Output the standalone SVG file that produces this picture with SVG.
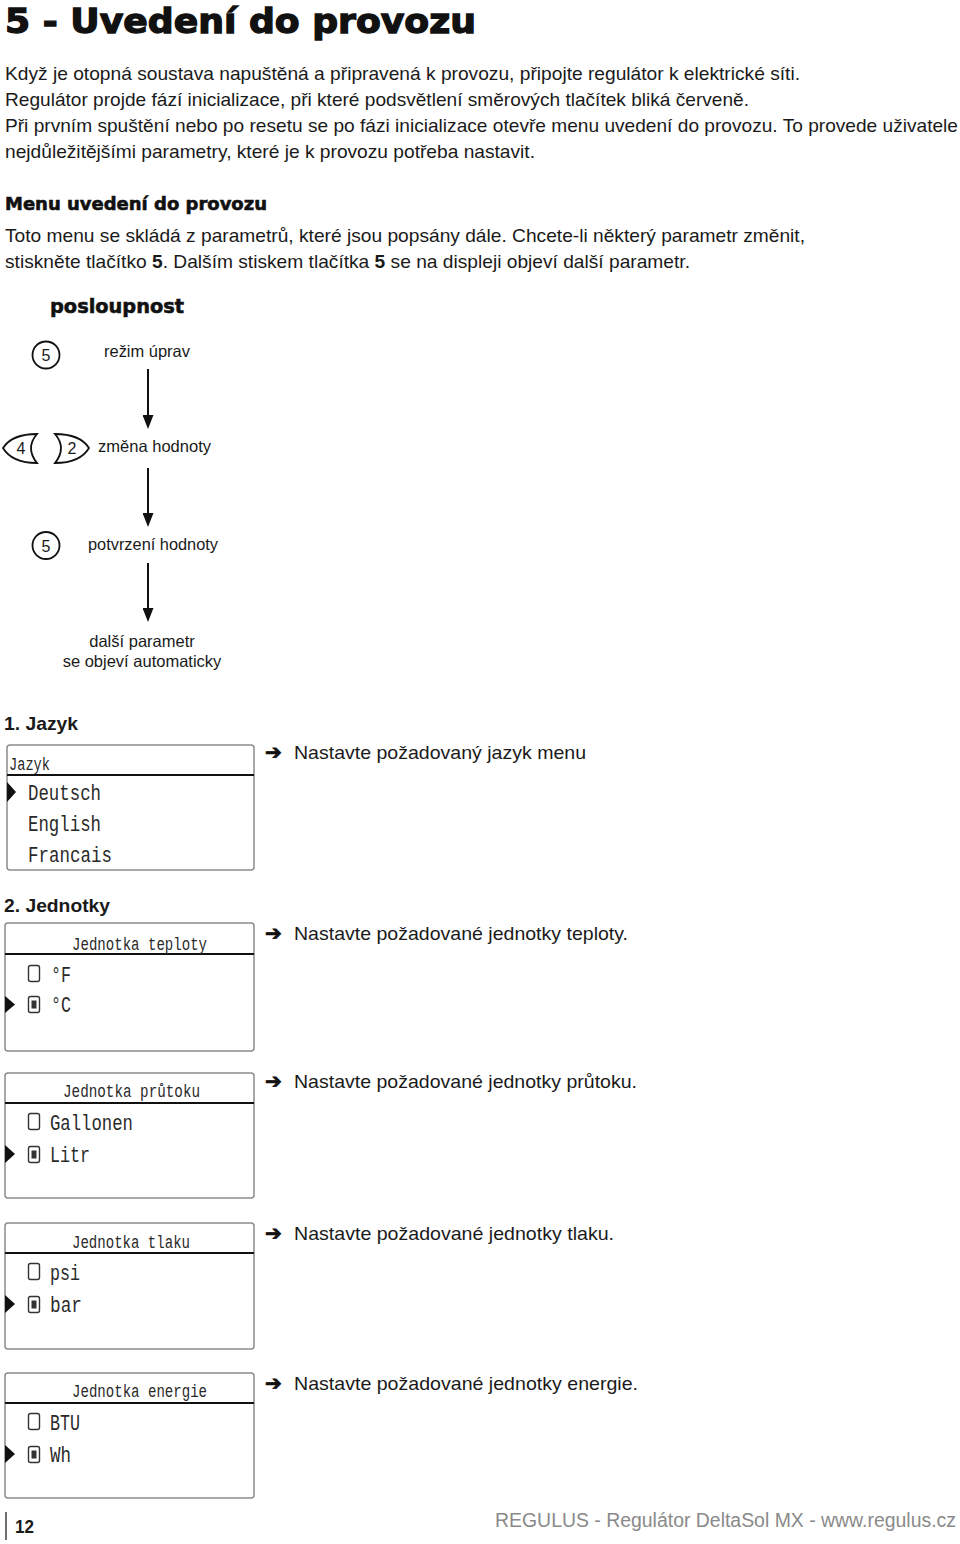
<svg xmlns="http://www.w3.org/2000/svg" width="960" height="1544" viewBox="0 0 960 1544">
<style>
.body{font-family:"Liberation Sans",Arial,sans-serif;font-size:19px;fill:#1a1a1a}
.heavy{font-family:"DejaVu Sans","Liberation Sans",sans-serif;font-weight:bold;fill:#111;stroke:#111}
.bold{font-family:"Liberation Sans",Arial,sans-serif;font-weight:bold;fill:#1a1a1a}
.flow{font-family:"Liberation Sans",Arial,sans-serif;font-size:16.5px;fill:#1a1a1a}
.key{font-family:"Liberation Sans",Arial,sans-serif;font-size:16px;fill:#1a1a1a;text-anchor:middle}
.keyshape{fill:#fff;stroke:#111;stroke-width:1.8}
.conn{stroke:#111;stroke-width:2;fill:none}
.lcd{fill:#fff;stroke:#8c8c8c;stroke-width:1.5}
.sep{stroke:#111;stroke-width:2}
.lcdt{font-family:"Liberation Mono","DejaVu Sans Mono",monospace;fill:#2a2a2a}
.ttl{font-size:18px}
.row{font-size:22px}
.ptr{fill:#111}
.rad{fill:none;stroke:#333;stroke-width:1.4}
.dot{fill:#333}
.arr{font-family:"DejaVu Sans",sans-serif;font-size:20px;fill:#111;stroke:#111;stroke-width:0.8}
.note{font-family:"Liberation Sans",Arial,sans-serif;font-size:19px;fill:#1a1a1a}
.foot{font-family:"Liberation Sans",Arial,sans-serif;font-size:19.4px;fill:#8a8a8a}
</style>
<defs>
<marker id="ah" viewBox="0 0 14 11" refX="9" refY="5.5" markerWidth="14" markerHeight="11" markerUnits="userSpaceOnUse" orient="auto">
<path d="M0,0 L14,5.5 L0,11 Z" fill="#111"/>
</marker>
</defs>
<rect x="0" y="0" width="960" height="1544" fill="#fff"/>

<g id="header">
<text class="heavy" x="5" y="33" font-size="33" stroke-width="1.3" textLength="471" lengthAdjust="spacingAndGlyphs">5 - Uvedení do provozu</text>
<text class="body" x="5" y="80" textLength="795" lengthAdjust="spacingAndGlyphs">Když je otopná soustava napuštěná a připravená k provozu, připojte regulátor k elektrické síti.</text>
<text class="body" x="5" y="106" textLength="744" lengthAdjust="spacingAndGlyphs">Regulátor projde fází inicializace, při které podsvětlení směrových tlačítek bliká červeně.</text>
<text class="body" x="5" y="132" textLength="953" lengthAdjust="spacingAndGlyphs">Při prvním spuštění nebo po resetu se po fázi inicializace otevře menu uvedení do provozu. To provede uživatele</text>
<text class="body" x="5" y="158" textLength="530" lengthAdjust="spacingAndGlyphs">nejdůležitějšími parametry, které je k provozu potřeba nastavit.</text>
<text class="heavy" x="5" y="210" font-size="18" stroke-width="0.6" textLength="262" lengthAdjust="spacingAndGlyphs">Menu uvedení do provozu</text>
<text class="body" x="5" y="242" textLength="800" lengthAdjust="spacingAndGlyphs">Toto menu se skládá z parametrů, které jsou popsány dále. Chcete-li některý parametr změnit,</text>
<text class="body" x="5" y="268" textLength="685" lengthAdjust="spacingAndGlyphs">stiskněte tlačítko <tspan font-weight="bold">5</tspan>. Dalším stiskem tlačítka <tspan font-weight="bold">5</tspan> se na displeji objeví další parametr.</text>
<text class="heavy" x="50" y="313" font-size="20" stroke-width="0.6" textLength="134" lengthAdjust="spacingAndGlyphs">posloupnost</text>
</g>

<g id="connectors">
<line class="conn" x1="148" y1="369" x2="148" y2="424" marker-end="url(#ah)"/>
<line class="conn" x1="148" y1="468" x2="148" y2="522" marker-end="url(#ah)"/>
<line class="conn" x1="148" y1="563" x2="148" y2="617" marker-end="url(#ah)"/>
</g>

<g id="step-edit">
<circle class="keyshape" cx="46" cy="355" r="13.5"/>
<text class="key" x="46" y="361">5</text>
<text class="flow" x="104" y="357" textLength="86" lengthAdjust="spacingAndGlyphs">režim úprav</text>
</g>

<g id="step-change">
<path class="keyshape" d="M3,448 Q12,434 37,434 Q25,448 37,463 Q12,463 3,448 Z"/>
<text class="key" x="21" y="454">4</text>
<path class="keyshape" d="M55,434 Q80,434 89,448 Q80,463 55,463 Q67,448 55,434 Z"/>
<text class="key" x="72" y="454">2</text>
<text class="flow" x="98" y="452" textLength="113" lengthAdjust="spacingAndGlyphs">změna hodnoty</text>
</g>

<g id="step-confirm">
<circle class="keyshape" cx="46" cy="545.5" r="13.5"/>
<text class="key" x="46" y="551.5">5</text>
<text class="flow" x="88" y="550" textLength="130" lengthAdjust="spacingAndGlyphs">potvrzení hodnoty</text>
</g>

<g id="step-next">
<text class="flow" x="142" y="647" text-anchor="middle">další parametr</text>
<text class="flow" x="142" y="667" text-anchor="middle">se objeví automaticky</text>
</g>

<g id="section-jazyk">
<text class="bold" x="4" y="730" font-size="18.5" textLength="74" lengthAdjust="spacingAndGlyphs">1. Jazyk</text>
<rect class="lcd" x="7" y="745" width="247" height="125" rx="3"/>
<line class="sep" x1="7" y1="775" x2="254" y2="775"/>
<text class="lcdt ttl" x="9" y="770" textLength="41" lengthAdjust="spacingAndGlyphs">Jazyk</text>
<path class="ptr" d="M7,782 L16,792 L7,802 Z"/>
<text class="lcdt row" x="28" y="800" textLength="73" lengthAdjust="spacingAndGlyphs">Deutsch</text>
<text class="lcdt row" x="28" y="831" textLength="73" lengthAdjust="spacingAndGlyphs">English</text>
<text class="lcdt row" x="28" y="862" textLength="84" lengthAdjust="spacingAndGlyphs">Francais</text>
<text class="arr" x="265" y="759">➔</text>
<text class="note" x="294" y="759" textLength="292" lengthAdjust="spacingAndGlyphs">Nastavte požadovaný jazyk menu</text>
</g>

<text class="bold" x="4" y="912" font-size="18.5" textLength="106" lengthAdjust="spacingAndGlyphs">2. Jednotky</text>

<g id="lcd-teplota">
<rect class="lcd" x="5" y="923" width="249" height="128" rx="3"/>
<line class="sep" x1="5" y1="954" x2="254" y2="954"/>
<text class="lcdt ttl" x="72" y="950" textLength="135" lengthAdjust="spacingAndGlyphs">Jednotka teploty</text>
<rect class="rad" x="28.5" y="965.5" width="11" height="16" rx="2"/>
<text class="lcdt row" x="51" y="982" textLength="20" lengthAdjust="spacingAndGlyphs">°F</text>
<path class="ptr" d="M5,996 L15,1004.5 L5,1013 Z"/>
<rect class="rad" x="28.5" y="996.5" width="11" height="16" rx="2"/>
<rect class="dot" x="31.5" y="1000.5" width="5" height="8"/>
<text class="lcdt row" x="51" y="1012" textLength="20" lengthAdjust="spacingAndGlyphs">°C</text>
<text class="arr" x="265" y="940">➔</text>
<text class="note" x="294" y="940" textLength="334" lengthAdjust="spacingAndGlyphs">Nastavte požadované jednotky teploty.</text>
</g>

<g id="lcd-prutok">
<rect class="lcd" x="5" y="1073" width="249" height="125" rx="3"/>
<line class="sep" x1="5" y1="1103" x2="254" y2="1103"/>
<text class="lcdt ttl" x="63" y="1097" textLength="137" lengthAdjust="spacingAndGlyphs">Jednotka průtoku</text>
<rect class="rad" x="28.5" y="1113.5" width="11" height="16" rx="2"/>
<text class="lcdt row" x="50" y="1130" textLength="83" lengthAdjust="spacingAndGlyphs">Gallonen</text>
<path class="ptr" d="M5,1145 L15,1154 L5,1163 Z"/>
<rect class="rad" x="28.5" y="1146.5" width="11" height="16" rx="2"/>
<rect class="dot" x="31.5" y="1150.5" width="5" height="8"/>
<text class="lcdt row" x="50" y="1162" textLength="40" lengthAdjust="spacingAndGlyphs">Litr</text>
<text class="arr" x="265" y="1088">➔</text>
<text class="note" x="294" y="1088" textLength="343" lengthAdjust="spacingAndGlyphs">Nastavte požadované jednotky průtoku.</text>
</g>

<g id="lcd-tlak">
<rect class="lcd" x="5" y="1223" width="249" height="126" rx="3"/>
<line class="sep" x1="5" y1="1253" x2="254" y2="1253"/>
<text class="lcdt ttl" x="72" y="1248" textLength="118" lengthAdjust="spacingAndGlyphs">Jednotka tlaku</text>
<rect class="rad" x="28.5" y="1263.5" width="11" height="16" rx="2"/>
<text class="lcdt row" x="50" y="1280" textLength="30" lengthAdjust="spacingAndGlyphs">psi</text>
<path class="ptr" d="M5,1295 L15,1304 L5,1313 Z"/>
<rect class="rad" x="28.5" y="1296.5" width="11" height="16" rx="2"/>
<rect class="dot" x="31.5" y="1300.5" width="5" height="8"/>
<text class="lcdt row" x="50" y="1312" textLength="32" lengthAdjust="spacingAndGlyphs">bar</text>
<text class="arr" x="265" y="1240">➔</text>
<text class="note" x="294" y="1240" textLength="320" lengthAdjust="spacingAndGlyphs">Nastavte požadované jednotky tlaku.</text>
</g>

<g id="lcd-energie">
<rect class="lcd" x="5" y="1373" width="249" height="125" rx="3"/>
<line class="sep" x1="5" y1="1403" x2="254" y2="1403"/>
<text class="lcdt ttl" x="72" y="1397" textLength="135" lengthAdjust="spacingAndGlyphs">Jednotka energie</text>
<rect class="rad" x="28.5" y="1413.5" width="11" height="16" rx="2"/>
<text class="lcdt row" x="50" y="1430" textLength="30" lengthAdjust="spacingAndGlyphs">BTU</text>
<path class="ptr" d="M5,1445 L15,1454 L5,1463 Z"/>
<rect class="rad" x="28.5" y="1446.5" width="11" height="16" rx="2"/>
<rect class="dot" x="31.5" y="1450.5" width="5" height="8"/>
<text class="lcdt row" x="50" y="1462" textLength="21" lengthAdjust="spacingAndGlyphs">Wh</text>
<text class="arr" x="265" y="1390">➔</text>
<text class="note" x="294" y="1390" textLength="344" lengthAdjust="spacingAndGlyphs">Nastavte požadované jednotky energie.</text>
</g>

<g id="footer">
<line x1="6" y1="1512" x2="6" y2="1540" stroke="#111" stroke-width="1.2"/>
<text class="bold" x="15" y="1533" font-size="18" textLength="19" lengthAdjust="spacingAndGlyphs">12</text>
<text class="foot" x="495" y="1527" textLength="461" lengthAdjust="spacingAndGlyphs">REGULUS - Regulátor DeltaSol MX - www.regulus.cz</text>
</g>
</svg>
